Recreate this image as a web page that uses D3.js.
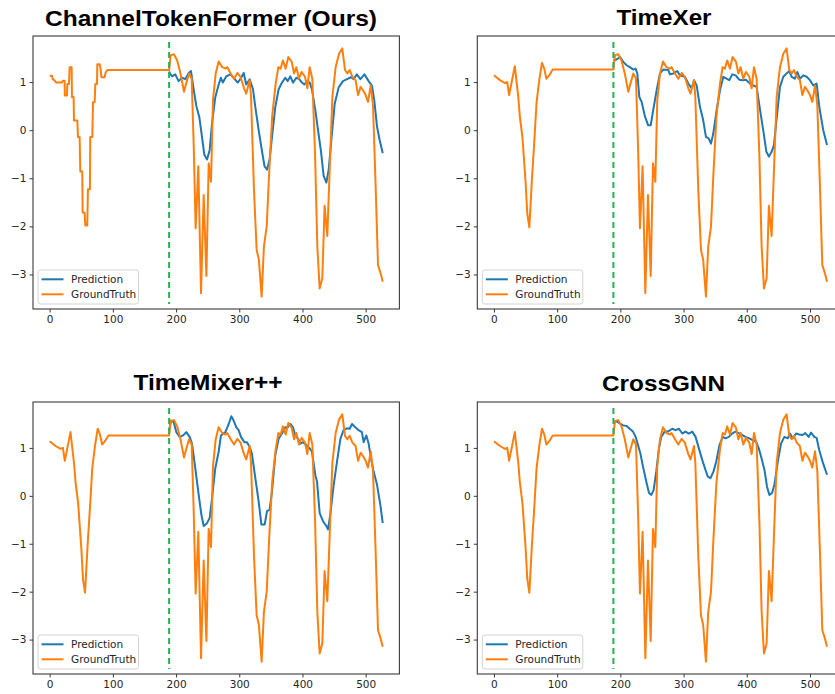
<!DOCTYPE html>
<html>
<head>
<meta charset="utf-8">
<script src="https://cdn.jsdelivr.net/npm/d3@7"></script>
<style>
body { margin: 0; background: #fff; }
text { font-family: "DejaVu Sans", sans-serif; }
</style>
</head>
<body>
<svg id="chart" width="835" height="694"></svg>
<script>
// ground truth, shared by all four panels (look-back part differs for panel 1)
var inputStepped = [[0,1.13],[3.7,1.13],[5,1.06],[8,1.03],[10,0.99],[19.5,0.99],[21,1.03],[23.7,1.03],[24,0.72],[27.4,0.72],
    [28,0.96],[30.6,0.96],[31.6,1.31],[34.8,1.31],[35.3,0.69],[37.9,0.69],[38.5,0.2],[43.8,0.2],[44.8,-0.14],[47.4,-0.14],
    [48.5,-0.86],[51.6,-0.86],[52.2,-1.71],[55.3,-1.71],[56.4,-1.98],[59.5,-1.98],[60.6,-1.23],[63.7,-1.23],[64.2,-0.14],
    [67.5,-0.14],[68.6,0.58],[71.2,0.58],[72.3,0.96],[74.9,0.96],[75.4,1.37],[79.1,1.37],[80.7,1.27],[81.8,1.1],[87,1.1],
    [88.6,1.2],[91.3,1.25],[189,1.25]];

var inputSmooth = [[0,1.14],[9.5,1.04],[17.4,0.98],[21,1.0],[24,0.73],[33,1.33],[38.5,0.69],[41,0.28],[45,-0.14],[50,-1.07],
    [52.7,-1.73],[56,-2.02],[60,-1.04],[64,-0.2],[67.5,0.59],[72,1.07],[76,1.40],[79.6,1.28],[83,1.07],[87.5,1.14],
    [93,1.26],[189,1.26]];

var truthFuture = [[189,1.26],[191.5,1.56],[196.7,1.58],[201.8,1.45],[207,1.18],[212.6,0.80],[216,0.97],[220.5,1.18],
    [224.7,1.07],[228,-0.35],[231,-2.04],[235.2,-0.75],[239.5,-3.39],[243.7,-1.35],[248,-3.03],[251.6,-0.69],[255.3,-1.07],
    [258.4,0.62],[262.7,1.18],[267.4,1.43],[273,1.31],[278.5,1.28],[281,1.31],[286.4,1.18],[291.7,1.07],[297,1.19],
    [302,1.11],[307.5,0.87],[311,0.76],[316.5,1.04],[318.6,0.69],[323.3,-1.25],[327.5,-2.49],[331,-2.69],[335.4,-3.46],
    [339,-2.42],[343.4,-2.0],[347,-0.97],[352,0.28],[357.6,0.97],[361.8,1.31],[365.5,1.28],[369,1.45],[373.4,1.28],
    [377.6,1.52],[383,1.42],[386.6,1.18],[390.3,1.31],[394.5,1.07],[398.7,1.21],[404,1.11],[407.7,0.87],[411.4,1.31],
    [415.6,1.07],[420,-0.55],[423.5,-2.42],[427.2,-3.29],[431.4,-3.08],[435,-1.57],[439.3,-2.20],[443,-0.83],[447.3,0.69],
    [452.5,1.31],[457.8,1.59],[463,1.70],[467.3,1.25],[471,1.18],[474.7,1.25],[479,1.11],[484,1.04],[488,0.73],[492,0.90],
    [495.8,0.83],[500,0.73],[503.7,0.59],[508,0.93],[511.6,0.52],[515.8,-1.18],[519.5,-2.80],[523.7,-2.98],[527,-3.15]];

// predictions
var predChannelTokenFormer = [[189,1.22],[190,1.19],[193.6,1.12],[198.8,1.16],[204,1.02],[209.4,1.09],[214.7,1.06],[220,1.19],
    [223.6,1.23],[227.8,0.85],[232,0.51],[236.8,0.27],[241,-0.14],[244.7,-0.51],[249,-0.61],[253.2,-0.41],[256.9,0.14],
    [262,0.68],[267.4,0.95],[271,1.09],[274,0.99],[279.5,1.12],[285.9,1.16],[291,1.09],[297.5,0.99],[301.7,1.06],[307,1.19],
    [311,0.95],[316.5,1.06],[321.7,0.85],[325.4,0.48],[330.7,0],[336,-0.44],[340,-0.75],[343.9,-0.82],[348,-0.61],
    [351.8,-0.14],[357,0.48],[362.3,0.85],[367.6,0.99],[372.9,1.09],[376.6,1.02],[380.8,1.12],[385,0.99],[390.3,1.09],
    [395,1.06],[399,0.99],[403,0.95],[407.2,1.02],[411.4,0.99],[415,0.85],[420.4,0.41],[424.6,0],[429.3,-0.44],[433.5,-0.95],
    [437.8,-1.09],[441.5,-0.82],[445.7,-0.2],[451,0.55],[457.3,0.89],[464,1.02],[470.5,1.06],[476.8,1.10],[481,1.06],
    [486,1.16],[491.6,1.06],[498,1.16],[504.7,1.02],[510,0.92],[513.7,0.61],[518,0.07],[522,-0.2],[527,-0.48]];

var predTimeXer = [[189,1.45],[194,1.47],[199.4,1.52],[204.6,1.42],[209.9,1.35],[215,1.31],[220.5,1.26],[224,1.28],
    [226.8,1.18],[230,0.69],[233.6,0.59],[239,0.28],[244,0.10],[248,0.10],[252,0.42],[257.4,0.83],[262.7,1.18],[268,1.26],
    [275.8,1.25],[278.5,1.16],[283.8,1.18],[290,1.23],[294,1.14],[302,1.11],[307.5,0.97],[312.8,0.87],[316.5,1.04],
    [320.7,0.93],[326,0.48],[331,0.21],[335.4,-0.14],[339.7,-0.17],[343.4,-0.28],[347,-0.07],[352.3,0.42],[357.6,0.83],
    [362.9,1.11],[368,1.07],[372.4,1.04],[377,1.16],[382.4,1.14],[388,1.05],[393.5,1.04],[398.7,1.05],[405,0.97],
    [410,0.93],[415.6,0.90],[421,0.42],[426,0.0],[431,-0.45],[435,-0.55],[439.3,-0.45],[443,-0.31],[447,0.21],[452.5,0.90],
    [457.8,1.11],[463,1.18],[467.3,1.23],[471,1.11],[476,1.07],[480,1.21],[484,1.07],[489.5,1.14],[494.7,1.11],[500,1.04],
    [505.3,0.93],[510.5,0.97],[514.8,0.48],[521,0.0],[527,-0.31]];

var predTimeMixer = [[189,1.37],[192,1.57],[196.2,1.54],[200.4,1.33],[205.7,1.23],[211,1.26],[216.2,1.33],[221.5,1.23],
    [225.2,1.09],[230.5,0.57],[235.8,0.02],[240,-0.39],[243.7,-0.63],[249,-0.57],[253.2,-0.46],[256.9,-0.05],[262,0.57],
    [267.4,0.92],[271,1.26],[278,1.33],[283.3,1.50],[287.4,1.66],[291.1,1.57],[295.4,1.43],[299,1.37],[302.7,1.23],
    [308,1.12],[312.2,1.12],[316.5,1.02],[320,0.88],[325.4,0.37],[330.7,-0.12],[335,-0.6],[340.2,-0.6],[343.9,-0.32],
    [348,-0.29],[351.8,0.09],[357,0.85],[362.3,1.19],[367.6,1.30],[372.9,1.43],[376.6,1.43],[380.8,1.50],[385,1.43],
    [388.7,1.26],[393,1.19],[396.6,1.09],[400.8,1.12],[406,1.06],[411.4,0.99],[415,0.92],[420.4,0.43],[423,0.30],
    [427.2,-0.36],[432.5,-0.53],[437.8,-0.63],[440.4,-0.70],[444,-0.39],[449.4,0.23],[454.6,0.71],[460,1.19],[465,1.37],
    [470.5,1.41],[474.7,1.40],[478.4,1.50],[483.6,1.43],[488.9,1.37],[494,1.33],[496.8,1.12],[501,1.26],[504.7,1.09],
    [508.4,0.78],[512.7,0.50],[518,0.23],[523.2,-0.19],[527,-0.57]];

var predCrossGNN = [[189,1.51],[193.7,1.56],[199,1.51],[204.2,1.47],[209.5,1.46],[214.7,1.40],[220,1.34],[224.2,1.23],
    [227.9,1.06],[231.6,0.89],[235.8,0.61],[241,0.30],[245.3,0.06],[249,0.02],[252.6,0.12],[256.8,0.51],[261,0.99],
    [264.7,1.23],[270,1.34],[275.3,1.34],[282,1.40],[287.4,1.37],[292.6,1.40],[297.9,1.30],[303,1.34],[308.4,1.30],
    [313.7,1.34],[319,1.23],[324.2,0.99],[329.5,0.75],[334.7,0.54],[338.4,0.40],[342.6,0.37],[347.4,0.51],[351.6,0.71],
    [356.8,1.06],[362,1.23],[366.3,1.20],[371.6,1.23],[376.8,1.30],[382,1.34],[387.4,1.31],[392.6,1.27],[397.9,1.23],
    [404,1.20],[409.5,1.16],[414.7,1.13],[419,0.99],[422.6,0.82],[428,0.54],[432,0.19],[435.8,0.02],[440,0.06],
    [443.7,0.23],[449,0.71],[454.2,1.09],[459.5,1.23],[464.7,1.20],[468.4,1.30],[472.6,1.20],[478,1.30],[483.2,1.28],
    [488.4,1.27],[492.6,1.31],[497.9,1.23],[501.6,1.32],[506.8,1.23],[510.5,1.21],[514.7,0.95],[520,0.71],[527,0.44]];

var splitIndex = 189;
var xTicks = [0, 100, 200, 300, 400, 500];
var yTicks = [-3, -2, -1, 0, 1];
var legendLabels = ["Prediction", "GroundTruth"];
var panelTitles = ["ChannelTokenFormer (Ours)", "TimeXer", "TimeMixer++", "CrossGNN"];

var colBlue = "#1f77b4",
    colOrange = "#ff7f0e",
    colGreen = "#22b35a";

var panels = [
    { title: panelTitles[0], input: inputStepped, pred: predChannelTokenFormer, left: 33, top: 36, h: 273, tx: 211, ty: 26, tlen: 332 },
    { title: panelTitles[1], input: inputSmooth, pred: predTimeXer, left: 477.3, top: 36, h: 273, tx: 664, ty: 25, tlen: 95 },
    { title: panelTitles[2], input: inputSmooth, pred: predTimeMixer, left: 33, top: 402, h: 272, tx: 208, ty: 390, tlen: 149 },
    { title: panelTitles[3], input: inputSmooth, pred: predCrossGNN, left: 477.3, top: 402, h: 272, tx: 663.5, ty: 390.5, tlen: 123 }
];

var svg = d3.select("#chart");
var plotW = 366.4;

// matplotlib style 5% margins
var allY = truthFuture.concat(inputSmooth).map(function (d) { return d[1]; });
var yMin = d3.min(allY), yMax = d3.max(allY);
var yPad = (yMax - yMin) * 0.05;
var xPad = 527 * 0.05;

function minus(v) {
    return (v < 0 ? "\u2212" : "") + Math.abs(v);
}

function gen_panel(p) {
    var g = svg.append("g").attr("transform", "translate(" + p.left + "," + p.top + ")");

    var x = d3.scaleLinear().domain([-xPad, 527 + xPad]).range([0, plotW]);
    var y = d3.scaleLinear().domain([yMin - yPad, yMax + yPad]).range([p.h, 0]);

    var line = d3.line()
        .x(function (d) { return x(d[0]); })
        .y(function (d) { return y(d[1]); });

    // prediction first, ground truth on top
    g.append("path")
        .attr("d", line(p.pred))
        .attr("fill", "none")
        .attr("stroke", colBlue)
        .attr("stroke-width", 2)
        .attr("stroke-linejoin", "round");

    g.append("path")
        .attr("d", line(p.input.concat(truthFuture.slice(1))))
        .attr("fill", "none")
        .attr("stroke", colOrange)
        .attr("stroke-width", 2)
        .attr("stroke-linejoin", "round");

    g.append("line")
        .attr("x1", x(splitIndex)).attr("x2", x(splitIndex))
        .attr("y1", 6).attr("y2", p.h - 5)
        .attr("stroke", colGreen)
        .attr("stroke-width", 2)
        .attr("stroke-dasharray", "6,4");

    // frame
    g.append("rect")
        .attr("width", plotW).attr("height", p.h)
        .attr("fill", "none")
        .attr("stroke", "#3a3a3a")
        .attr("stroke-width", 1.1);

    var xAxis = d3.axisBottom(x).tickValues(xTicks).tickSize(3.5).tickPadding(3).tickSizeOuter(0);
    var yAxis = d3.axisLeft(y).tickValues(yTicks).tickSize(3.5).tickPadding(3).tickSizeOuter(0).tickFormat(minus);

    var gx = g.append("g").attr("transform", "translate(0," + p.h + ")").call(xAxis);
    var gy = g.append("g").call(yAxis);
    [gx, gy].forEach(function (a) {
        a.select(".domain").remove();
        a.selectAll("line").attr("stroke", "#3a3a3a").attr("stroke-width", 1);
        a.selectAll("text")
            .attr("fill", "#262626")
            .style("font-size", "10.5px")
            .style("font-family", "'DejaVu Sans', sans-serif");
    });

    // legend
    var lg = g.append("g").attr("transform", "translate(5," + (p.h - 39) + ")");
    lg.append("rect")
        .attr("width", 100.5).attr("height", 34)
        .attr("rx", 2.5)
        .attr("fill", "#fff").attr("fill-opacity", 0.85)
        .attr("stroke", "#d4d4d4").attr("stroke-width", 1);
    [colBlue, colOrange].forEach(function (c, i) {
        lg.append("line")
            .attr("x1", 3.5).attr("x2", 25.5)
            .attr("y1", 9.3 + i * 15).attr("y2", 9.3 + i * 15)
            .attr("stroke", c).attr("stroke-width", 2);
        lg.append("text")
            .attr("x", 33).attr("y", 13 + i * 15)
            .attr("fill", "#262626")
            .style("font-size", "10.5px")
            .text(legendLabels[i]);
    });

    svg.append("text")
        .attr("x", p.tx).attr("y", p.ty)
        .attr("text-anchor", "middle")
        .attr("textLength", p.tlen)
        .attr("lengthAdjust", "spacingAndGlyphs")
        .style("font-family", "'Liberation Sans', Arial, sans-serif")
        .style("font-weight", "bold")
        .style("font-size", "22px")
        .attr("fill", "#000")
        .text(p.title);
}

panels.forEach(gen_panel);
</script>
</body>
</html>
